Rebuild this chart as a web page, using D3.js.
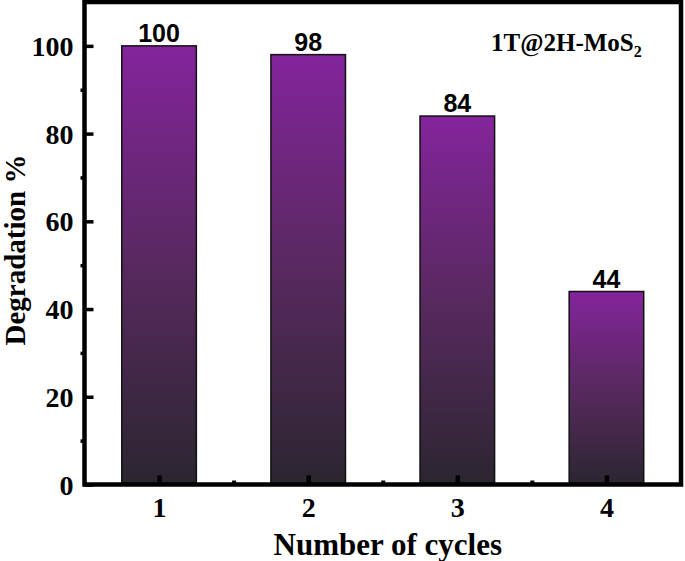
<!DOCTYPE html>
<html><head><meta charset="utf-8">
<script src="https://cdn.jsdelivr.net/npm/d3@7/dist/d3.min.js"></script>
<style>body{margin:0;background:#fff}svg{display:block}</style>
</head><body>
<svg id="c" width="685" height="561"></svg>
<script>
const cycles = [1, 2, 3, 4];
const degradation = [100, 98, 84, 44];
const yTicks = [0, 20, 40, 60, 80, 100];
const yMinor = [10, 30, 50, 70, 90];
const xMinor = [1.5, 2.5, 3.5];

const svg = d3.select("#c");
const L = 84.5, R = 681, T = 2, B = 484.5;
const x = d3.scaleLinear().domain([0.5, 4.5]).range([L, R]);
const y = d3.scaleLinear().domain([0, 110]).range([B, T]);

const defs = svg.append("defs");
const g = defs.append("linearGradient").attr("id", "bg").attr("x1", 0).attr("y1", 0).attr("x2", 0).attr("y2", 1);
g.append("stop").attr("offset", "0%").attr("stop-color", "#84249c");
g.append("stop").attr("offset", "50%").attr("stop-color", "#58295f");
g.append("stop").attr("offset", "100%").attr("stop-color", "#2b2630");

const bw = x(1.5) - x(1);
svg.selectAll("rect.bar").data(cycles).join("rect").attr("class", "bar")
  .attr("x", d => x(d) - bw / 2).attr("width", bw)
  .attr("y", (d, i) => y(degradation[i])).attr("height", (d, i) => y(0) - y(degradation[i]))
  .attr("fill", "url(#bg)").attr("stroke", "#111").attr("stroke-width", 1.5);

svg.selectAll("text.val").data(cycles).join("text").attr("class", "val")
  .attr("x", d => x(d)).attr("y", (d, i) => y(degradation[i]) - 4)
  .attr("text-anchor", "middle").attr("font-family", "Liberation Sans, Arial, sans-serif")
  .attr("font-weight", "bold").attr("font-size", 25).text((d, i) => degradation[i]);

// frame
svg.append("rect").attr("x", L).attr("y", T).attr("width", R - L).attr("height", B - T)
  .attr("fill", "none").attr("stroke", "#000").attr("stroke-width", 4.5);

// y axis ticks
const ya = d3.axisLeft(y).tickValues(yTicks).tickSize(-9).tickPadding(11).tickFormat(d3.format("d"));
const yg = svg.append("g").attr("transform", `translate(${L},0)`).call(ya);
yg.select(".domain").remove();
yg.selectAll(".tick line").attr("stroke-width", 3.5);
yg.selectAll(".tick text").attr("font-family", "Liberation Serif, Times New Roman, serif")
  .attr("font-weight", "bold").attr("font-size", 28).attr("fill", "#000").attr("dy", "0.34em");
const ym = d3.axisLeft(y).tickValues(yMinor).tickSize(4).tickFormat("");
const ymg = svg.append("g").attr("transform", `translate(${L},0)`).call(ym);
ymg.select(".domain").remove();
ymg.selectAll(".tick line").attr("stroke-width", 3.5);

// x axis ticks
const xa = d3.axisBottom(x).tickValues(cycles).tickSize(-9).tickPadding(13).tickFormat(d3.format("d"));
const xg = svg.append("g").attr("transform", `translate(0,${B})`).call(xa);
xg.select(".domain").remove();
xg.selectAll(".tick line").attr("stroke-width", 4.5);
xg.selectAll(".tick text").attr("font-family", "Liberation Serif, Times New Roman, serif")
  .attr("font-weight", "bold").attr("font-size", 28).attr("fill", "#000");
const xm = d3.axisBottom(x).tickValues(xMinor).tickSize(-4).tickFormat("");
const xmg = svg.append("g").attr("transform", `translate(0,${B})`).call(xm);
xmg.select(".domain").remove();
xmg.selectAll(".tick line").attr("stroke-width", 4);

// titles
svg.append("text").attr("x", (L + R) / 2 + 5).attr("y", 555).attr("text-anchor", "middle")
  .attr("font-family", "Liberation Serif, Times New Roman, serif").attr("font-weight", "bold")
  .attr("font-size", 31).text("Number of cycles");
svg.append("text").attr("transform", "translate(25,250) rotate(-90)").attr("text-anchor", "middle")
  .attr("font-family", "Liberation Serif, Times New Roman, serif").attr("font-weight", "bold")
  .attr("font-size", 29).text("Degradation %");

const ann = svg.append("text").attr("x", 491).attr("y", 51)
  .attr("font-family", "Liberation Serif, Times New Roman, serif").attr("font-weight", "bold")
  .attr("font-size", 25);
ann.append("tspan").text("1T@2H-MoS");
ann.append("tspan").attr("font-size", 16).attr("dy", 6).text("2");
</script>
</body></html>
